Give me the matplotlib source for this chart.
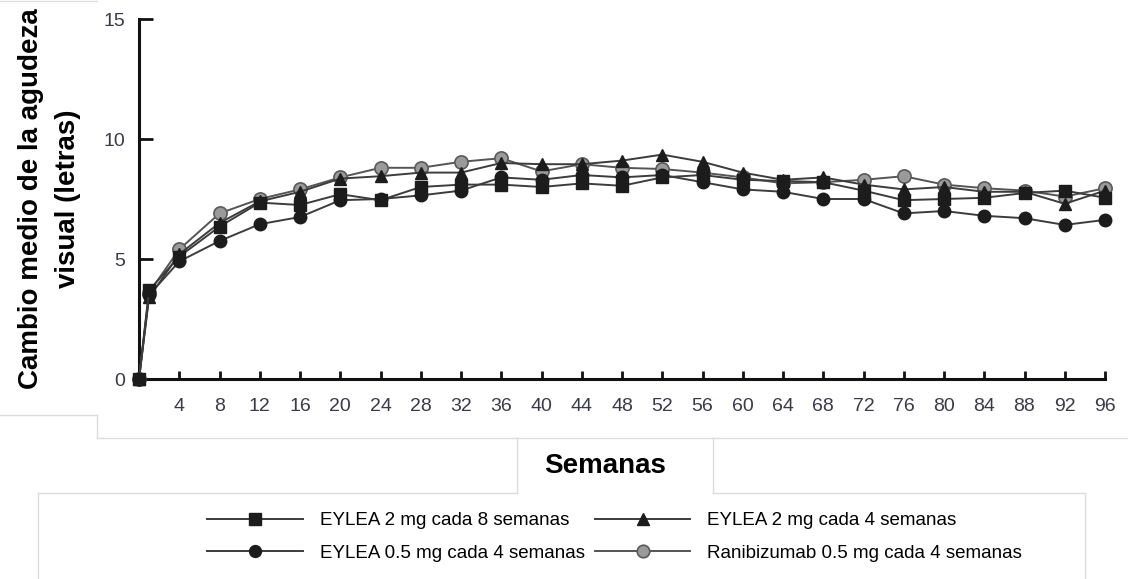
import matplotlib
matplotlib.use("Agg")
import matplotlib.pyplot as plt
from matplotlib.lines import Line2D

plt.rcParams['font.family'] = ['Liberation Sans', 'DejaVu Sans']

# ---- data ----
weeks = [0, 1, 4, 8, 12, 16, 20, 24, 28, 32, 36, 40, 44, 48, 52, 56, 60, 64, 68, 72, 76, 80, 84, 88, 92, 96]
eylea_2mg_q8 = [0, 3.7, 5.1, 6.35, 7.35, 7.25, 7.7, 7.45, 8.0, 8.1, 8.1, 8.0, 8.15, 8.05, 8.4, 8.5,
                8.3, 8.25, 8.2, 7.85, 7.45, 7.5, 7.55, 7.75, 7.85, 7.55]
eylea_2mg_q4 = [0, 3.4, 5.2, 6.5, 7.4, 7.8, 8.35, 8.45, 8.6, 8.6, 9.0, 8.95, 8.95, 9.1, 9.35, 9.05,
                8.6, 8.3, 8.4, 8.1, 7.9, 8.0, 7.8, 7.8, 7.3, 7.85]
eylea_05mg_q4 = [0, 3.5, 4.9, 5.75, 6.45, 6.75, 7.45, 7.5, 7.65, 7.85, 8.4, 8.3, 8.5, 8.4, 8.5, 8.2,
                 7.9, 7.8, 7.5, 7.5, 6.9, 7.0, 6.8, 6.7, 6.42, 6.63]
ranibizumab = [0, 3.6, 5.4, 6.9, 7.5, 7.9, 8.4, 8.8, 8.8, 9.05, 9.2, 8.65, 8.95, 8.8, 8.75, 8.6,
               8.4, 8.15, 8.2, 8.3, 8.45, 8.1, 7.95, 7.85, 7.6, 7.95]

labels = ["EYLEA 2 mg cada 8 semanas", "EYLEA 2 mg cada 4 semanas",
          "EYLEA 0.5 mg cada 4 semanas", "Ranibizumab 0.5 mg cada 4 semanas"]
xticks = list(range(4, 97, 4))
yticks = [0, 5, 10, 15]

W, H = 1128, 579
fig = plt.figure(figsize=(W / 100, H / 100), dpi=100)
ax = fig.add_axes([139 / W, 1 - 379 / H, (1105 - 139) / W, (379 - 19) / H])

line_c = '#3c3c3c'
lw = 1.4
h_gray, = ax.plot(weeks, ranibizumab, color='#555555', lw=lw, marker='o', ms=9.5,
                  mfc='#9a9a9a', mec='#5a5a5a', mew=1.2, clip_on=False, zorder=3)
h_circ, = ax.plot(weeks, eylea_05mg_q4, color=line_c, lw=lw, marker='o', ms=9,
                  mfc='#1c1c1c', mec='#1c1c1c', clip_on=False, zorder=4)
h_tri, = ax.plot(weeks, eylea_2mg_q4, color=line_c, lw=lw, marker='^', ms=9,
                 mfc='#1c1c1c', mec='#1c1c1c', clip_on=False, zorder=5)
h_sq, = ax.plot(weeks, eylea_2mg_q8, color=line_c, lw=lw, marker='s', ms=9,
                mfc='#1c1c1c', mec='#1c1c1c', clip_on=False, zorder=6)

ax.set_xlim(0, 96)
ax.set_ylim(0, 15)
ax.set_xticks(xticks)
ax.set_yticks(yticks)
for s in ['top', 'right']:
    ax.spines[s].set_visible(False)
for s in ['left', 'bottom']:
    ax.spines[s].set_linewidth(2.2)
    ax.spines[s].set_color('#111111')
tick_c = '#3a3a48'
ax.tick_params(axis='x', direction='in', length=6, width=2, color='#111111',
               pad=14, labelsize=14, labelcolor=tick_c)
ax.tick_params(axis='y', direction='in', length=10, width=2, color='#111111',
               pad=10, labelsize=14, labelcolor=tick_c)

ax.set_ylabel("Cambio medio de la agudeza\nvisual (letras)", fontsize=20, fontweight='bold',
              linespacing=1.55, labelpad=16)
ax.set_xlabel("Semanas", fontsize=20, fontweight='bold')
ax.xaxis.set_label_coords((605 - 139) / (1105 - 139), -(466 - 379) / (379 - 19))
ax.xaxis.label.set_va('center')

fs = 13.5
fig.legend([h_sq, h_circ, h_tri, h_gray],
           [labels[0], labels[2], labels[1], labels[3]],
           ncol=2, loc='upper left', bbox_to_anchor=(207 / W, 1 - 512 / H),
           frameon=False, borderpad=0, borderaxespad=0, fontsize=fs,
           handlelength=5.1, handletextpad=0.9, columnspacing=0.55,
           labelspacing=0.83, numpoints=1, markerscale=0.95)

# faint panel borders (screenshot composite)
bc = '#dcdcdc'
def seg(x0, y0, x1, y1):
    fig.add_artist(Line2D([x0 / W, x1 / W], [1 - y0 / H, 1 - y1 / H], color=bc, lw=1))
seg(0, 1, 97, 1)
seg(0, 415, 97, 415)
seg(97, 415, 97, 438)
seg(97, 438, 1128, 438)
seg(517, 438, 517, 493)
seg(713, 438, 713, 493)
seg(38, 493, 517, 493)
seg(713, 493, 1085, 493)
seg(38, 493, 38, 579)
seg(1085, 493, 1085, 579)

fig.savefig("out.png", dpi=100)
